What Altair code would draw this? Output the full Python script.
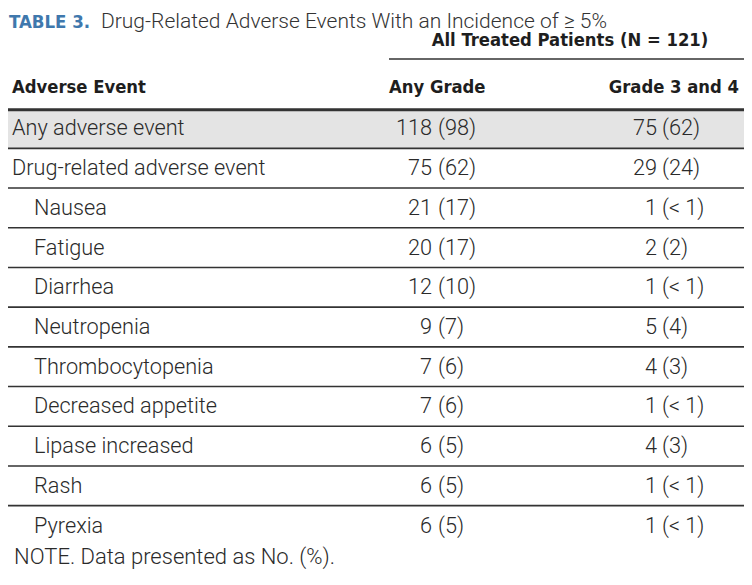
import altair as alt
import pandas as pd

# ---------------- data ----------------
title_label = "TABLE 3."
title_text = "Drug-Related Adverse Events With an Incidence of \u2265 5%"
group_header = "All Treated Patients (N = 121)"
col_headers = ["Adverse Event", "Any Grade", "Grade 3 and 4"]
events = ["Any adverse event", "Drug-related adverse event", "Nausea", "Fatigue",
          "Diarrhea", "Neutropenia", "Thrombocytopenia", "Decreased appetite",
          "Lipase increased", "Rash", "Pyrexia"]
indent = [0, 0, 1, 1, 1, 1, 1, 1, 1, 1, 1]
shaded = [1, 0, 0, 0, 0, 0, 0, 0, 0, 0, 0]
any_no = ["118", "75", "21", "20", "12", "9", "7", "7", "6", "6", "6"]
any_pct = ["98", "62", "17", "17", "10", "7", "6", "6", "5", "5", "5"]
g34_no = ["75", "29", "1", "2", "1", "5", "4", "1", "4", "1", "1"]
g34_pct = ["62", "24", "< 1", "2", "< 1", "4", "3", "< 1", "3", "< 1", "< 1"]
note = "NOTE. Data presented as No. (%)."

# ---------------- layout ----------------
W, H = 736, 563
X_LEFT, X_RIGHT = 0, 752
X_LABEL, X_INDENT = 12, 34
X_ANY_NUM, X_ANY_PCT = 432, 438
X_G34_NUM, X_G34_PCT = 657, 662
X_GROUP_L = 389
R_TITLE, R_GROUP, R_GROUP_LINE, R_HEAD, R_THICK, R_NOTE = -2.68, -2.2, -1.75, -1.02, -0.47, 10.79

BODY_FONT = "Roboto"
HEAD_FONT = "DejaVu Sans Condensed"
TEXT_COLOR = "#2a2a2a"
LINE_COLOR = "#333333"

xs = alt.Scale(domain=[8, 744], nice=False, zero=False)
ys = alt.Scale(domain=[-3.035, 11.146], reverse=True, nice=False, zero=False)

rows = pd.DataFrame({
    "row": list(range(len(events))),
    "event": events,
    "indent": indent,
    "shaded": shaded,
    "any_no": any_no,
    "any_pct": ["(" + p + ")" for p in any_pct],
    "g34_no": g34_no,
    "g34_pct": ["(" + p + ")" for p in g34_pct],
})
n_rows = len(events)

X = lambda f: alt.X(f, scale=xs, axis=None)
Y = lambda f: alt.Y(f, scale=ys, axis=None)

base = alt.Chart(rows)

band = base.transform_filter("datum.shaded == 1").transform_calculate(
    x0=str(X_LEFT), x1=str(X_RIGHT), y0="datum.row - 0.5", y1="datum.row + 0.5"
).mark_rect(color="#e4e4e4").encode(x=X("x0:Q"), x2="x1:Q", y=Y("y0:Q"), y2="y1:Q")

seps = base.transform_filter(f"datum.row < {n_rows - 1}").transform_calculate(
    x0=str(X_LEFT), x1=str(X_RIGHT), yy="datum.row + 0.5"
).mark_rule(color=LINE_COLOR, strokeWidth=1.6).encode(x=X("x0:Q"), x2="x1:Q", y=Y("yy:Q"))

frame = pd.DataFrame({"kind": ["thick", "group"]})
thick = alt.Chart(frame).transform_filter("datum.kind == 'thick'").transform_calculate(
    x0=str(X_LEFT), x1=str(X_RIGHT), yy=str(R_THICK)
).mark_rule(color=LINE_COLOR, strokeWidth=3).encode(x=X("x0:Q"), x2="x1:Q", y=Y("yy:Q"))
grp_line = alt.Chart(frame).transform_filter("datum.kind == 'group'").transform_calculate(
    x0=str(X_GROUP_L), x1=str(X_RIGHT), yy=str(R_GROUP_LINE)
).mark_rule(color=LINE_COLOR, strokeWidth=1.6).encode(x=X("x0:Q"), x2="x1:Q", y=Y("yy:Q"))

txt = dict(baseline="middle", font=BODY_FONT, fontSize=21.7, fontWeight=300, color=TEXT_COLOR)

lab = base.transform_calculate(
    xx=f"datum.indent == 1 ? {X_INDENT} : {X_LABEL}"
).mark_text(align="left", **txt).encode(x=X("xx:Q"), y=Y("row:Q"), text="event:N")

anyn = base.transform_calculate(xx=str(X_ANY_NUM)).mark_text(align="right", **txt).encode(
    x=X("xx:Q"), y=Y("row:Q"), text="any_no:N")
anyp = base.transform_calculate(xx=str(X_ANY_PCT)).mark_text(align="left", **txt).encode(
    x=X("xx:Q"), y=Y("row:Q"), text="any_pct:N")
g34n = base.transform_calculate(xx=str(X_G34_NUM)).mark_text(align="right", **txt).encode(
    x=X("xx:Q"), y=Y("row:Q"), text="g34_no:N")
g34p = base.transform_calculate(xx=str(X_G34_PCT)).mark_text(align="left", **txt).encode(
    x=X("xx:Q"), y=Y("row:Q"), text="g34_pct:N")

heads = pd.DataFrame({"label": col_headers, "pos": [X_LABEL, X_GROUP_L, 739],
                      "al": ["left", "left", "right"]})
hd = dict(baseline="middle", font=HEAD_FONT, fontSize=18.3, fontWeight="bold", color="#1e1e1e")
head_layers = []
for _, h in heads.iterrows():
    head_layers.append(
        alt.Chart(pd.DataFrame({"label": [h["label"]]})).transform_calculate(
            xx=str(h["pos"]), yy=str(R_HEAD)
        ).mark_text(align=h["al"], **hd).encode(x=X("xx:Q"), y=Y("yy:Q"), text="label:N")
    )

grp = alt.Chart(pd.DataFrame({"label": [group_header]})).transform_calculate(
    xx="570", yy=str(R_GROUP)
).mark_text(align="center", **hd).encode(x=X("xx:Q"), y=Y("yy:Q"), text="label:N")

t1 = alt.Chart(pd.DataFrame({"label": [title_label]})).transform_calculate(
    xx="9", yy=str(R_TITLE)
).mark_text(align="left", baseline="middle", font=HEAD_FONT, fontSize=18.5, fontWeight="bold",
            color="#3f78ad").encode(x=X("xx:Q"), y=Y("yy:Q"), text="label:N")
t2 = alt.Chart(pd.DataFrame({"label": [title_text]})).transform_calculate(
    xx="101", yy=str(R_TITLE)
).mark_text(align="left", baseline="middle", font=BODY_FONT, fontSize=21, fontWeight=300,
            color="#333333").encode(x=X("xx:Q"), y=Y("yy:Q"), text="label:N")

nt = alt.Chart(pd.DataFrame({"label": [note]})).transform_calculate(
    xx="14", yy=str(R_NOTE)
).mark_text(align="left", baseline="middle", font=BODY_FONT, fontSize=22, fontWeight=300,
            color=TEXT_COLOR).encode(x=X("xx:Q"), y=Y("yy:Q"), text="label:N")

chart = alt.layer(band, seps, thick, grp_line, lab, anyn, anyp, g34n, g34p, *head_layers, grp,
                  t1, t2, nt).properties(
    width=W, height=H, padding=0, autosize=alt.AutoSizeParams(type="none"), background="white"
).configure_view(stroke=None)

chart.save("out.html", embed_options={"renderer": "svg", "actions": False})
